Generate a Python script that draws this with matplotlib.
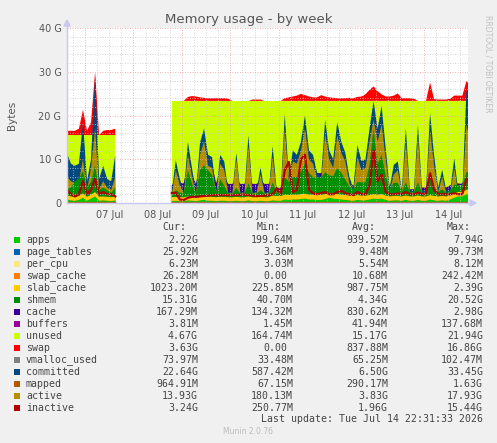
import numpy as np
import matplotlib
matplotlib.use("Agg")
import matplotlib.pyplot as plt
from matplotlib.patches import Rectangle, Polygon
from matplotlib.lines import Line2D

nan = np.nan
# sample times: hours relative to 07 Jul 00:00 (2-hour steps)
hours = list(range(-9, 193, 2))
GAP = [nan] * 13

# ---- stacked series (GB) ----
apps = [0.8, 0.6, 0.5, 0.7, 1.2, 0.5, 1.0, 1.5, 0.5, 0.6, 0.5, 0.4, 0.6] + GAP + [
    0.4, 0.5, 0.4, 0.4, 0.6, 0.5, 0.4, 0.6, 0.7, 0.5, 0.5, 0.4, 0.5, 0.5, 0.4, 0.4, 0.5, 0.4, 0.4, 0.6, 0.4, 0.4, 0.5, 0.4, 0.4,
    0.6, 0.5, 0.5, 0.8, 0.7, 0.8, 0.8, 0.9, 1.0, 0.8, 0.8, 0.7, 0.7, 0.9, 1.2, 1.0,
    0.9, 0.8, 0.7, 0.6, 0.5, 0.7, 0.6, 0.6,
    0.8, 1.0, 0.9, 1.0, 0.7, 0.5, 0.6, 0.6, 0.5, 0.7, 0.5, 0.5,
    0.7, 0.5, 0.5, 0.8, 0.6, 0.5, 0.6, 0.5, 0.8,
    1.2, 1.5, 1.5, 2.0, 2.2]
page_tables = [0.01] * 13 + GAP + [0.01] * 75
per_cpu = [0.006] * 13 + GAP + [0.006] * 75
swap_cache = [0.01] * 13 + GAP + [0.01] * 75
slab_cache = [0.9, 0.9, 0.9, 0.9, 1.0, 0.9, 0.9, 1.0, 0.9, 0.9, 0.9, 0.9, 0.9] + GAP + [
    0.9, 0.9, 0.9, 0.9, 0.9, 0.9, 0.9, 0.9, 0.9, 0.9, 0.9, 0.9, 0.9, 0.9, 0.9, 0.9, 0.9, 0.9, 0.9, 0.9, 0.9, 0.9, 0.9, 0.9, 0.9,
    1.1, 1.1, 1.1, 1.1, 1.1, 1.1, 1.1, 1.1, 1.1, 1.1, 1.1, 1.1, 1.1, 1.1, 1.1, 1.1,
    1.1, 1.1, 1.1, 1.1, 1.1, 1.1, 1.1, 1.1,
    1.0, 1.0, 1.0, 1.0, 1.0, 1.0, 1.0, 1.0, 1.0, 1.0, 1.0, 1.0,
    1.0, 1.0, 1.0, 1.0, 1.0, 1.0, 1.0, 1.0, 1.0,
    1.0, 1.0, 1.0, 1.0, 1.0]
shmem = [1.5, 2.0, 3.5, 4.0, 5.0, 2.0, 3.0, 6.0, 1.5, 2.0, 1.5, 1.0, 2.0] + GAP + [
    0.5, 1.5, 1.0, 1.0, 6.0, 3.0, 0.8, 6.0, 7.0, 6.0, 5.0, 1.0, 4.0, 2.5, 0.8, 0.8, 2.0, 0.8, 0.8, 3.0, 0.8, 0.8, 1.5, 0.8, 0.8,
    3.0, 0.8, 0.8, 4.0, 3.0, 4.0, 4.0, 5.0, 7.0, 5.0, 4.0, 4.0, 4.0, 5.0, 4.0, 4.0,
    6.0, 5.0, 3.5, 2.0, 1.5, 3.0, 3.0, 3.0,
    7.0, 15.0, 7.0, 9.0, 4.5, 1.5, 3.0, 3.0, 1.0, 3.0, 1.0, 1.0,
    3.0, 0.8, 0.8, 4.0, 2.0, 1.0, 1.5, 0.8, 1.0,
    2.0, 1.5, 1.5, 4.0, 4.0]
cache = [0.4, 0.3, 0.3, 0.3, 0.4, 0.3, 0.3, 0.4, 0.3, 0.3, 0.3, 0.3, 0.3] + GAP + [
    2.2, 2.2, 2.2, 2.2, 2.2, 2.2, 2.2, 2.2, 2.2, 2.2, 2.2, 2.2, 2.2, 2.2, 2.2, 2.2, 2.2, 2.2, 2.2, 2.2, 2.2, 2.2, 2.2, 2.2, 2.2,
    1.0, 1.0, 1.0, 1.0, 1.0, 1.0, 1.0, 1.0, 1.0, 1.0, 1.0, 1.0, 1.0, 1.0, 1.0, 1.0,
    0.8, 0.8, 0.8, 0.8, 0.8, 0.8, 0.8, 0.8,
    0.6, 0.6, 0.6, 0.6, 0.6, 0.6, 0.6, 0.6, 0.6, 0.6, 0.6, 0.6,
    1.2, 1.2, 1.2, 1.2, 1.2, 1.2, 1.2, 1.2, 1.2,
    0.4, 0.4, 0.4, 0.4, 0.4]
buffers = [0.04] * 13 + GAP + [0.04] * 75
unused = [11.83, 11.63, 10.23, 9.53, 7.83, 11.73, 10.23, 6.53, 12.23, 11.63, 12.23, 12.83, 11.63] + GAP + [
    19.28, 18.18, 18.78, 18.78, 13.58, 16.68, 18.98, 13.58, 12.48, 13.68, 14.68, 18.78, 15.68, 17.18, 18.98, 18.98, 17.68, 18.98, 18.98, 16.58, 18.98, 18.98, 18.18, 18.98, 18.98,
    17.58, 19.88, 19.88, 16.38, 17.48, 16.38, 16.38, 15.28, 13.18, 15.38, 16.38, 16.48, 16.48, 15.28, 15.98, 16.18,
    14.48, 15.58, 17.18, 18.78, 19.38, 17.68, 17.78, 17.78,
    13.88, 5.68, 13.78, 11.68, 16.48, 19.68, 18.08, 18.08, 20.18, 17.98, 20.18, 20.18,
    17.38, 19.78, 19.78, 16.28, 18.48, 19.58, 18.98, 19.78, 19.28,
    18.68, 18.88, 18.88, 15.88, 15.68]
swap = [1.0, 1.0, 1.0, 1.5, 5.8, 1.0, 3.0, 14.5, 0.0, 1.0, 1.2, 1.2, 1.5] + GAP + [
    0, 0, 0, 0, 0.9, 1.1, 1.0, 0.8, 0.7, 0.6, 0.6, 0.6, 0.6, 0.6, 0.5, 0, 0, 0, 0, 0, 0.3, 0.3, 0.3, 0, 0,
    0, 0, 0, 0.6, 0.8, 1.0, 1.2, 1.6, 1.3, 1.0, 0.8, 0.8, 1.3, 1.0, 0.8, 0.7,
    0.6, 0.6, 0.6, 0.7, 0.6, 0.9, 1.0, 1.5,
    2.5, 3.3, 2.2, 1.5, 1.0, 1.0, 1.2, 1.7, 0.6, 0.6, 0.6, 0.5,
    0, 0, 0, 4.2, 0.4, 0.3, 0.3, 0.3, 0.5,
    1.2, 1.2, 1.2, 4.5, 3.6]

# ---- non-stacked series (GB) ----
vmalloc_used = [0.065] * 13 + GAP + [0.065] * 75
committed = [11.5, 9.0, 8.5, 9.0, 18.5, 5.0, 10.0, 29.0, 5.5, 8.5, 5.5, 5.0, 11.0] + GAP + [
    2.5, 9.8, 5.5, 2.5, 14.0, 8.0, 2.5, 13.8, 17.0, 11.0, 10.5, 2.5, 11.0, 9.5, 2.5, 2.5, 11.4, 2.5, 2.5, 15.5, 2.6, 2.6, 8.2, 2.5, 2.5,
    13.0, 3.0, 3.0, 20.3, 6.0, 12.0, 11.0, 14.0, 20.0, 12.0, 11.0, 7.0, 6.0, 19.0, 12.0, 10.0,
    18.5, 14.0, 11.5, 6.0, 3.5, 13.3, 9.6, 10.0,
    17.0, 23.3, 17.0, 22.2, 12.6, 3.5, 8.7, 9.5, 3.0, 17.1, 3.0, 3.0,
    17.8, 3.0, 3.0, 20.6, 10.9, 3.5, 7.6, 3.0, 3.0,
    10.2, 2.5, 2.5, 25.5, 26.0]
mapped = [0.25] * 13 + GAP + [0.3] * 75
active = [6.0, 5.0, 4.5, 5.0, 10.0, 3.0, 8.0, 17.0, 3.0, 5.0, 3.5, 3.0, 6.0] + GAP + [
    2.0, 7.5, 4.0, 2.2, 11.0, 6.0, 2.0, 11.0, 14.0, 8.5, 8.0, 2.2, 9.0, 7.5, 2.2, 2.2, 10.0, 2.2, 2.2, 13.0, 2.2, 2.3, 6.5, 2.2, 2.2,
    10.5, 2.5, 2.5, 17.0, 5.0, 9.5, 9.0, 12.0, 17.0, 10.0, 9.0, 5.5, 4.5, 16.0, 10.0, 8.0,
    15.5, 11.5, 9.5, 4.5, 2.5, 10.5, 7.5, 8.0,
    14.0, 19.0, 14.0, 18.0, 10.0, 2.5, 6.5, 7.5, 2.5, 14.0, 2.3, 2.5,
    15.0, 2.3, 2.3, 16.5, 8.5, 2.5, 6.0, 2.3, 2.3,
    8.0, 2.0, 2.0, 17.9, 13.9]
inactive = [3.0, 2.0, 1.5, 2.0, 5.0, 2.0, 3.0, 5.5, 2.0, 2.5, 2.0, 2.0, 1.5] + GAP + [
    2.3, 2.3, 0.8, 0.7, 1.2, 1.4, 1.4, 1.5, 1.6, 1.7, 1.8, 1.8, 1.8, 1.8, 1.8, 1.8, 1.8, 1.9, 1.9, 1.8, 1.7, 1.6, 1.6, 1.7, 1.8,
    2.0, 3.4, 2.0, 7.5, 9.4, 2.5, 3.0, 10.0, 11.0, 3.0, 2.2, 2.0, 2.3, 2.5, 2.0, 2.0,
    2.5, 2.8, 2.2, 2.0, 1.8, 2.5, 2.0, 2.0,
    4.0, 12.0, 5.0, 6.5, 2.5, 2.0, 2.0, 2.2, 2.0, 2.5, 2.0, 2.0,
    2.4, 2.0, 2.2, 6.8, 3.0, 2.0, 2.0, 2.0, 2.0,
    2.2, 2.0, 2.0, 5.5, 5.0]

# ---- legend table ----
names = ["apps", "page_tables", "per_cpu", "swap_cache", "slab_cache", "shmem", "cache",
         "buffers", "unused", "swap", "vmalloc_used", "committed", "mapped", "active", "inactive"]
colors = ["#00CC00", "#0066B3", "#FFE680", "#FF8000", "#FFCC00", "#008F00", "#330099",
          "#990099", "#CCFF00", "#FF0000", "#808080", "#00487D", "#B35A00", "#B38F00", "#B30000"]
cur_vals = ["2.22G", "25.92M", "6.23M", "26.28M", "1023.20M", "15.31G", "167.29M", "3.81M",
            "4.67G", "3.63G", "73.97M", "22.64G", "964.91M", "13.93G", "3.24G"]
min_vals = ["199.64M", "3.36M", "3.03M", "0.00 ", "225.85M", "40.70M", "134.32M", "1.45M",
            "164.74M", "0.00 ", "33.48M", "587.42M", "67.15M", "180.13M", "250.77M"]
avg_vals = ["939.52M", "9.48M", "5.54M", "10.68M", "987.75M", "4.34G", "830.62M", "41.94M",
            "15.17G", "837.88M", "65.25M", "6.50G", "290.17M", "3.83G", "1.96G"]
max_vals = ["7.94G", "99.73M", "8.12M", "242.42M", "2.39G", "20.52G", "2.98G", "137.68M",
            "21.94G", "16.86G", "102.47M", "33.45G", "1.63G", "17.93G", "15.44G"]
day_labels = ["07 Jul", "08 Jul", "09 Jul", "10 Jul", "11 Jul", "12 Jul", "13 Jul", "14 Jul"]
y_ticks = [0, 10, 20, 30, 40]
y_labels = ["0", "10 G", "20 G", "30 G", "40 G"]

W, H = 497, 443
fig = plt.figure(figsize=(W / 100, H / 100), dpi=100, facecolor="#F0F0F0")


def fx(px):
    return px / W


def fy(py):
    return 1 - py / H


L, R, T, B = 67, 468, 28, 203
ax = fig.add_axes([fx(L), fy(B), (R - L) / W, (B - T) / H])
ax.set_facecolor("white")

x = np.array(hours, dtype=float)
series = {n: np.array(v, dtype=float) for n, v in zip(
    names, [apps, page_tables, per_cpu, swap_cache, slab_cache, shmem, cache, buffers,
            unused, swap, vmalloc_used, committed, mapped, active, inactive])}
col = dict(zip(names, colors))

lower = ["apps", "page_tables", "per_cpu", "swap_cache", "slab_cache", "shmem", "cache", "buffers"]
# layering: cache/buffers sit behind the committed/active overlays, the rest in front
band_z = {"apps": 1.5, "page_tables": 1.5, "per_cpu": 1.5, "swap_cache": 1.5,
          "slab_cache": 1.5, "shmem": 1.5, "cache": 1.15, "buffers": 1.15}
cum = np.zeros_like(x)
bands = []
for n in lower:
    bands.append((n, cum.copy(), cum + series[n]))
    cum = cum + series[n]
unused_top = cum + series["unused"]
swap_top = unused_top + series["swap"]

ax.fill_between(x, unused_top, swap_top, color=col["swap"], lw=0, zorder=1)
ax.fill_between(x, 0, unused_top, color=col["unused"], lw=0, zorder=1.1)
ax.fill_between(x, 0, series["committed"], color=col["committed"], lw=0, zorder=1.2)
ax.fill_between(x, 0, series["active"], color=col["active"], lw=0, zorder=1.3)
for n, lo, hi in bands:
    ax.fill_between(x, lo, hi, color=col[n], lw=0, zorder=band_z[n])
ax.plot(x, series["mapped"], color=col["mapped"], lw=1.0, zorder=1.6)
ax.plot(x, series["vmalloc_used"], color=col["vmalloc_used"], lw=1.0, zorder=1.6)
ax.plot(x, series["inactive"], color=col["inactive"], lw=1.6, zorder=1.7)

ax.set_xlim(-8.92, 189.8)
ax.set_ylim(0, 40)

# grid on top (rrdtool style)
for h in range(-6, 190, 6):
    c = "#F29A9A" if h % 24 == 0 else "#C8C8C8"
    ax.axvline(h, color=c, lw=0.6, ls=(0, (1, 2)), zorder=5)
for g in range(2, 41, 2):
    c = "#F29A9A" if g % 10 == 0 else "#C8C8C8"
    ax.axhline(g, color=c, lw=0.6, ls=(0, (1, 2)), zorder=5)

ax.set_yticks(y_ticks)
ax.set_yticklabels(y_labels)
ax.set_xticks([12 + 24 * k for k in range(len(day_labels))])
ax.set_xticklabels(day_labels)
ax.tick_params(axis="both", length=0, labelsize=7, colors="#555555", pad=4)
ax.tick_params(axis="x", pad=5)
for s in ["top", "right"]:
    ax.spines[s].set_visible(False)
for s in ["left", "bottom"]:
    ax.spines[s].set_color("#C8C8F0")
    ax.spines[s].set_linewidth(1.0)
    ax.spines[s].set_zorder(6)

# axis arrows
fig.add_artist(Line2D([fx(L), fx(L)], [fy(T), fy(24)], color="#C8C8F0", lw=1.0))
fig.add_artist(Polygon([[fx(L - 3), fy(26)], [fx(L + 3), fy(26)], [fx(L), fy(20)]],
                       closed=True, color="#C8C8F0", transform=fig.transFigure))
fig.add_artist(Line2D([fx(R), fx(472)], [fy(B), fy(B)], color="#C8C8F0", lw=1.0))
fig.add_artist(Polygon([[fx(470), fy(B - 3)], [fx(470), fy(B + 3)], [fx(476), fy(B)]],
                       closed=True, color="#C8C8F0", transform=fig.transFigure))

fig.text(0.5, fy(19), "Memory usage - by week", ha="center", va="center",
         fontsize=9.5, color="#555555")
fig.text(fx(12), fy(115), "Bytes", rotation=90, ha="center", va="center",
         fontsize=7.5, color="#555555")
fig.text(fx(488), fy(15), "RRDTOOL / TOBI OETIKER", rotation=270, ha="center", va="top",
         fontsize=5.5, color="#C0C0C0")

mono = "DejaVu Sans Mono"
fs = 7.1
cw = 5.95
col_right = [198, 293, 388, 483]
headers = ["Cur:", "Min:", "Avg:", "Max:"]
for hdr, xr in zip(headers, col_right):
    fig.text(fx(xr - 2 * cw), fy(227), hdr, ha="right", va="center", family=mono,
             fontsize=fs, color="#444444")
for i, n in enumerate(names):
    yy = 240 + 12 * i
    fig.add_artist(Rectangle((fx(14), fy(yy + 3)), 6 / W, 6 / H, transform=fig.transFigure,
                             facecolor=col[n], edgecolor="none"))
    fig.text(fx(26), fy(yy), n, ha="left", va="center", family=mono, fontsize=fs,
             color="#444444")
    for vals, xr in zip([cur_vals, min_vals, avg_vals, max_vals], col_right):
        s = vals[i]
        shift = (len(s) - len(s.rstrip())) * cw
        fig.text(fx(xr - shift), fy(yy), s.rstrip(), ha="right", va="center", family=mono,
                 fontsize=fs, color="#444444")

fig.text(fx(483), fy(419), "Last update: Tue Jul 14 22:31:33 2026", ha="right", va="center",
         family=mono, fontsize=fs, color="#444444")
fig.text(fx(248), fy(432), "Munin 2.0.76", ha="center", va="center", fontsize=5.5,
         color="#BBBBBB")

fig.savefig("out.png", dpi=100, facecolor=fig.get_facecolor())
